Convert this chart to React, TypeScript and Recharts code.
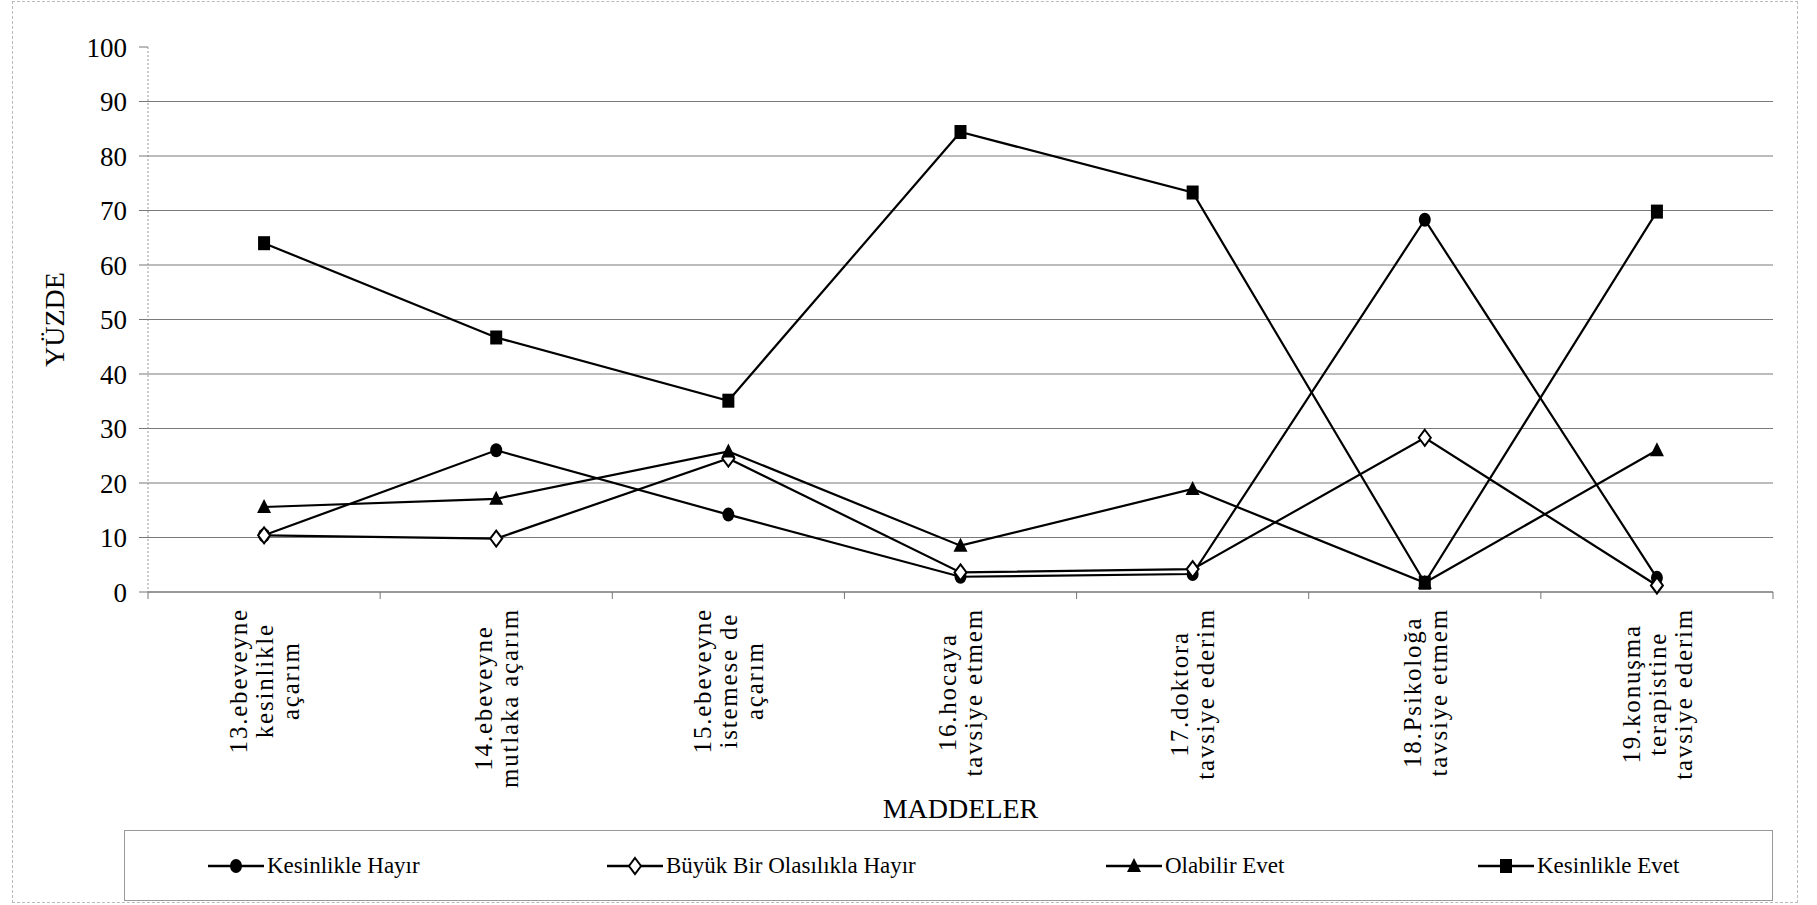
import React from "react";
import { LineChart, Line, XAxis, YAxis, ReferenceLine } from "recharts";

const CATEGORY_LINES: string[][] = [
  ["13.ebeveyne", "kesinlikle", "açarım"],
  ["14.ebeveyne", "mutlaka açarım"],
  ["15.ebeveyne", "istemese de", "açarım"],
  ["16.hocaya", "tavsiye etmem"],
  ["17.doktora", "tavsiye ederim"],
  ["18.Psikoloğa", "tavsiye etmem"],
  ["19.konuşma", "terapistine", "tavsiye ederim"],
];
const CATEGORIES = CATEGORY_LINES.map((l) => l.join(" "));

const SERIES_NAMES = ["Kesinlikle Hayır", "Büyük Bir Olasılıkla Hayır", "Olabilir Evet", "Kesinlikle Evet"];
const KESINLIKLE_HAYIR = [10.4, 26.0, 14.2, 2.8, 3.3, 68.3, 2.6];
const BUYUK_BIR_OLASILIKLA_HAYIR = [10.4, 9.8, 24.5, 3.6, 4.2, 28.3, 1.2];
const OLABILIR_EVET = [15.6, 17.1, 25.8, 8.5, 18.9, 1.7, 26.0];
const KESINLIKLE_EVET = [64.0, 46.7, 35.1, 84.4, 73.3, 1.7, 69.8];

const Y_TICKS = [0, 10, 20, 30, 40, 50, 60, 70, 80, 90, 100];
const GRID_VALUES = [10, 20, 30, 40, 50, 60, 70, 80, 90];

const data = CATEGORIES.map((c, i) => ({
  name: c,
  kh: KESINLIKLE_HAYIR[i],
  bboh: BUYUK_BIR_OLASILIKLA_HAYIR[i],
  oe: OLABILIR_EVET[i],
  ke: KESINLIKLE_EVET[i],
}));

const W = 1817;
const H = 905;
const MARGIN = { top: 47, right: 44, left: 0, bottom: 73 };
const Y_AXIS_W = 148;
const X_AXIS_H = 240;
const PLOT_BOTTOM = H - MARGIN.bottom - X_AXIS_H;
const PLOT_LEFT = MARGIN.left + Y_AXIS_W;
const PLOT_RIGHT = W - MARGIN.right;
const BAND = (PLOT_RIGHT - PLOT_LEFT) / CATEGORIES.length;
const FONT = '"Liberation Serif", "Times New Roman", Times, serif';
const CAT_FS = 25;
const CAT_LS = 1.8;
const CAT_LH = 26;

let ctx: CanvasRenderingContext2D | null = null;
const measure = (s: string) => {
  if (!ctx) {
    const c = document.createElement("canvas");
    ctx = c.getContext("2d");
  }
  if (!ctx) return s.length * CAT_FS * 0.45;
  ctx.font = `${CAT_FS}px "Liberation Serif"`;
  return ctx.measureText(s).width + s.length * CAT_LS;
};

const XTick = (props: any) => {
  const { x, payload } = props;
  const idx = CATEGORIES.indexOf(payload.value);
  const lines = CATEGORY_LINES[idx] || [];
  const n = lines.length;
  const maxW = Math.max(...lines.map(measure));
  const last = idx === CATEGORIES.length - 1;
  return (
    <g>
      <line x1={x - BAND / 2} y1={PLOT_BOTTOM} x2={x - BAND / 2} y2={PLOT_BOTTOM + 7} stroke="#777" />
      {last && <line x1={x + BAND / 2} y1={PLOT_BOTTOM} x2={x + BAND / 2} y2={PLOT_BOTTOM + 7} stroke="#777" />}
      <g transform={`translate(${x},${PLOT_BOTTOM + 16}) rotate(-90)`}>
        <text textAnchor="middle" fontSize={CAT_FS} fontFamily={FONT} letterSpacing={CAT_LS} fill="#000">
          {lines.map((l, i) => (
            <tspan key={i} x={-maxW / 2} y={(i - (n - 1) / 2) * CAT_LH + 0.35 * CAT_FS}>
              {l}
            </tspan>
          ))}
        </text>
      </g>
    </g>
  );
};

const CircleDot = (p: any) => {
  const { cx, cy } = p;
  if (cx == null || cy == null) return null;
  return <ellipse cx={cx} cy={cy} rx={6} ry={7} fill="#000" />;
};
const DiamondDot = (p: any) => {
  const { cx, cy } = p;
  if (cx == null || cy == null) return null;
  return (
    <polygon
      points={`${cx},${cy - 8} ${cx + 6},${cy} ${cx},${cy + 8} ${cx - 6},${cy}`}
      fill="#fff"
      stroke="#000"
      strokeWidth={2}
    />
  );
};
const TriangleDot = (p: any) => {
  const { cx, cy } = p;
  if (cx == null || cy == null) return null;
  return <polygon points={`${cx},${cy - 8} ${cx + 7},${cy + 6} ${cx - 7},${cy + 6}`} fill="#000" />;
};
const SquareDot = (p: any) => {
  const { cx, cy } = p;
  if (cx == null || cy == null) return null;
  return <rect x={cx - 6} y={cy - 7} width={12} height={14} fill="#000" />;
};

const DOTS = [CircleDot, DiamondDot, TriangleDot, SquareDot];
const KEYS = ["kh", "bboh", "oe", "ke"];
const LEGEND_LEFT = [82, 481, 980, 1352];

const LegendIcon = ({ i }: { i: number }) => {
  const D = DOTS[i];
  return (
    <svg width={58} height={24} style={{ display: "block" }}>
      <line x1={1} y1={12} x2={57} y2={12} stroke="#000" strokeWidth={2.5} />
      <D cx={29} cy={12} />
    </svg>
  );
};

export default function App() {
  return (
    <div style={{ position: "absolute", left: 0, top: 0, width: W, height: H, background: "#fff" }}>
      <div
        style={{
          position: "absolute",
          left: 12,
          top: 1,
          width: 1786,
          height: 902,
          border: "1px dashed #bbb",
          boxSizing: "border-box",
        }}
      />
      <div style={{ position: "absolute", left: 0, top: 0 }}>
        <LineChart width={W} height={H} data={data} margin={MARGIN}>
          {GRID_VALUES.map((v) => (
            <ReferenceLine key={v} y={v} stroke="#7a7a7a" strokeWidth={1.2} ifOverflow="extendDomain" />
          ))}
          <XAxis
            dataKey="name"
            height={X_AXIS_H}
            interval={0}
            padding={{ left: BAND / 2, right: BAND / 2 }}
            tickLine={false}
            axisLine={{ stroke: "#777", strokeWidth: 1.5 }}
            tick={<XTick />}
            label={{
              content: (lp: any) => {
                const vb = lp.viewBox || {};
                return (
                  <text
                    x={(vb.x ?? PLOT_LEFT) + (vb.width ?? PLOT_RIGHT - PLOT_LEFT) / 2}
                    y={PLOT_BOTTOM + 226}
                    textAnchor="middle"
                    fontSize={28}
                    fontFamily={FONT}
                    fill="#000"
                  >
                    MADDELER
                  </text>
                );
              },
            }}
          />
          <YAxis
            width={Y_AXIS_W}
            domain={[0, 100]}
            ticks={Y_TICKS}
            interval={0}
            tickSize={9}
            tickMargin={12}
            tickLine={{ stroke: "#777" }}
            axisLine={{ stroke: "#999", strokeDasharray: "2 2" }}
            tick={{ fontSize: 27, fontFamily: FONT, fill: "#000" }}
            label={{
              value: "YÜZDE",
              angle: -90,
              position: "insideLeft",
              offset: 54,
              style: { fontSize: 28, fontFamily: FONT, fill: "#000", textAnchor: "middle" },
            }}
          />
          {KEYS.map((k, i) => {
            const D = DOTS[i];
            return (
              <Line
                key={k}
                dataKey={k}
                name={SERIES_NAMES[i]}
                stroke="#000"
                strokeWidth={2.2}
                isAnimationActive={false}
                dot={(p: any) => <D key={`${k}-${p.index}`} {...p} />}
                activeDot={false}
                type="linear"
              />
            );
          })}
        </LineChart>
      </div>
      <div
        style={{
          position: "absolute",
          left: 124,
          top: 830,
          width: 1649,
          height: 71,
          border: "1px solid #999",
          boxSizing: "border-box",
        }}
      >
        {SERIES_NAMES.map((n, i) => (
          <div
            key={n}
            style={{
              position: "absolute",
              left: LEGEND_LEFT[i],
              top: 0,
              height: 69,
              display: "flex",
              alignItems: "center",
              whiteSpace: "nowrap",
            }}
          >
            <LegendIcon i={i} />
            <span style={{ fontFamily: FONT, fontSize: 23, color: "#000", marginLeft: 2 }}>{n}</span>
          </div>
        ))}
      </div>
    </div>
  );
}
